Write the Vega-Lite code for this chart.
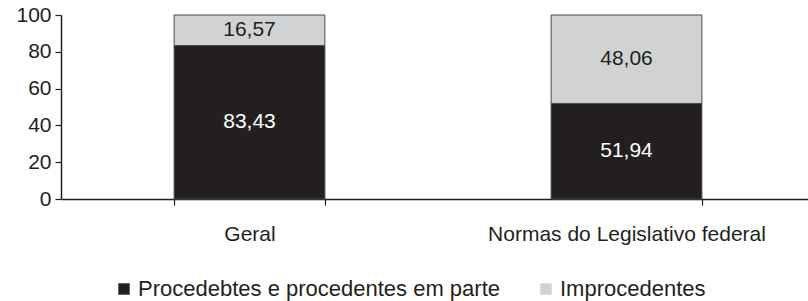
{
  "$schema": "https://vega.github.io/schema/vega-lite/v6.json",
  "width": 754,
  "height": 184,
  "autosize": "none",
  "padding": {"left": 61, "top": 15, "right": 0, "bottom": 102},
  "background": "white",
  "config": {
    "font": "Liberation Sans",
    "view": {"stroke": null},
    "axisY": {
      "title": null,
      "grid": false,
      "labelFontSize": 21,
      "labelColor": "#231f20",
      "labelPadding": 4,
      "labelOverlap": false,
      "labelFlush": false,
      "tickSize": 6,
      "tickColor": "#231f20",
      "tickWidth": 1.2,
      "domainColor": "#231f20",
      "domainWidth": 1.5
    }
  },
  "data": {
    "values": [
      {"cat": "Geral", "serie": "Procedebtes e procedentes em parte", "k": 1, "v": 83.43, "lab": "83,43"},
      {"cat": "Geral", "serie": "Improcedentes", "k": 2, "v": 16.57, "lab": "16,57"},
      {"cat": "Normas do Legislativo federal", "serie": "Procedebtes e procedentes em parte", "k": 1, "v": 51.94, "lab": "51,94"},
      {"cat": "Normas do Legislativo federal", "serie": "Improcedentes", "k": 2, "v": 48.06, "lab": "48,06"}
    ]
  },
  "transform": [
    {"stack": "v", "groupby": ["cat"], "sort": [{"field": "k", "order": "ascending"}], "as": ["v0", "v1"]},
    {"calculate": "(datum.v0 + datum.v1) / 2", "as": "mid"}
  ],
  "encoding": {
    "x": {
      "field": "cat",
      "type": "nominal",
      "sort": null,
      "scale": {"paddingInner": 0.6, "paddingOuter": 0.3},
      "axis": {
        "title": null,
        "labelAngle": 0,
        "labelFontSize": 21,
        "labelColor": "#231f20",
        "labelPadding": 18,
        "labelOverlap": false,
        "labelBound": false,
        "labelLimit": 500,
        "tickBand": "extent",
        "tickSize": 6,
        "tickColor": "#231f20",
        "tickWidth": 1.2,
        "domainColor": "#231f20",
        "domainWidth": 1.5
      }
    }
  },
  "layer": [
    {
      "mark": {"type": "bar", "stroke": "#4a4a4a", "strokeWidth": 1},
      "encoding": {
        "y": {
          "field": "v0",
          "type": "quantitative",
          "scale": {"domain": [0, 100], "nice": false},
          "axis": {"values": [0, 20, 40, 60, 80, 100]}
        },
        "y2": {"field": "v1"},
        "color": {
          "field": "serie",
          "type": "nominal",
          "sort": ["Procedebtes e procedentes em parte", "Improcedentes"],
          "scale": {
            "domain": ["Procedebtes e procedentes em parte", "Improcedentes"],
            "range": ["#231f20", "#d1d2d4"]
          },
          "legend": {
            "title": null,
            "orient": "none",
            "direction": "horizontal",
            "legendX": 52,
            "legendY": 263,
            "symbolType": "square",
            "symbolSize": 130,
            "symbolStrokeWidth": 0,
            "labelFontSize": 22,
            "labelOffset": 3,
            "labelColor": "#231f20",
            "labelLimit": 500,
            "columnPadding": 34
          }
        }
      }
    },
    {
      "mark": {"type": "text", "fontSize": 21, "baseline": "middle", "align": "center"},
      "encoding": {
        "y": {"field": "mid", "type": "quantitative", "axis": {"values": [0, 20, 40, 60, 80, 100]}},
        "text": {"field": "lab"},
        "color": {
          "condition": {"test": "datum.k == 1", "value": "#ffffff"},
          "value": "#231f20"
        }
      }
    }
  ]
}
